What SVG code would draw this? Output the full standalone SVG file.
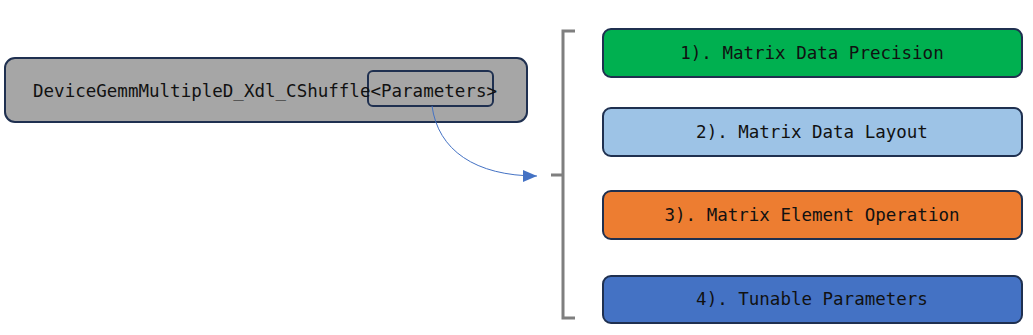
<svg xmlns="http://www.w3.org/2000/svg" width="1033" height="335" viewBox="0 0 1033 335">
<style>
.box{stroke:#1f3050;stroke-width:2}
.t{font-family:"DejaVu Sans Mono","Liberation Mono",monospace;font-size:17.5px;fill:#111}
</style>
<defs>
<marker id="ah" markerWidth="14" markerHeight="12" refX="14" refY="6" orient="auto" markerUnits="userSpaceOnUse">
<path d="M0,0 L14,6 L0,12 Z" fill="#4472c4"/>
</marker>
</defs>
<rect width="1033" height="335" fill="#fff"/>
<g id="main">
<rect class="box" x="5" y="58" width="522" height="64" rx="10" fill="#a6a6a6"/>
<rect x="368" y="71" width="125" height="35" rx="5" fill="none" stroke="#1f3050" stroke-width="2"/>
<text class="t" x="33" y="97" textLength="464" lengthAdjust="spacingAndGlyphs">DeviceGemmMultipleD_Xdl_CShuffle&lt;Parameters&gt;</text>
</g>
<g id="bracket">
<path d="M575,31 H563 V318 H575 M563,175 H551" fill="none" stroke="#7f7f7f" stroke-width="3"/>
</g>
<g id="connectors">
<path d="M432,106 C438,150 475,176 537,176" fill="none" stroke="#4472c4" stroke-width="1" marker-end="url(#ah)"/>
</g>
<g id="n1">
<rect class="box" x="603" y="29" width="419" height="48" rx="8" fill="#00b050"/>
<text class="t" x="812" y="59" text-anchor="middle">1). Matrix Data Precision</text>
</g>
<g id="n2">
<rect class="box" x="603" y="108" width="419" height="48" rx="8" fill="#9dc3e6"/>
<text class="t" x="812" y="138" text-anchor="middle">2). Matrix Data Layout</text>
</g>
<g id="n3">
<rect class="box" x="603" y="191" width="419" height="48" rx="8" fill="#ed7d31"/>
<text class="t" x="812" y="221" text-anchor="middle">3). Matrix Element Operation</text>
</g>
<g id="n4">
<rect class="box" x="603" y="276" width="419" height="47" rx="8" fill="#4472c4"/>
<text class="t" x="812" y="305" text-anchor="middle">4). Tunable Parameters</text>
</g>
</svg>
